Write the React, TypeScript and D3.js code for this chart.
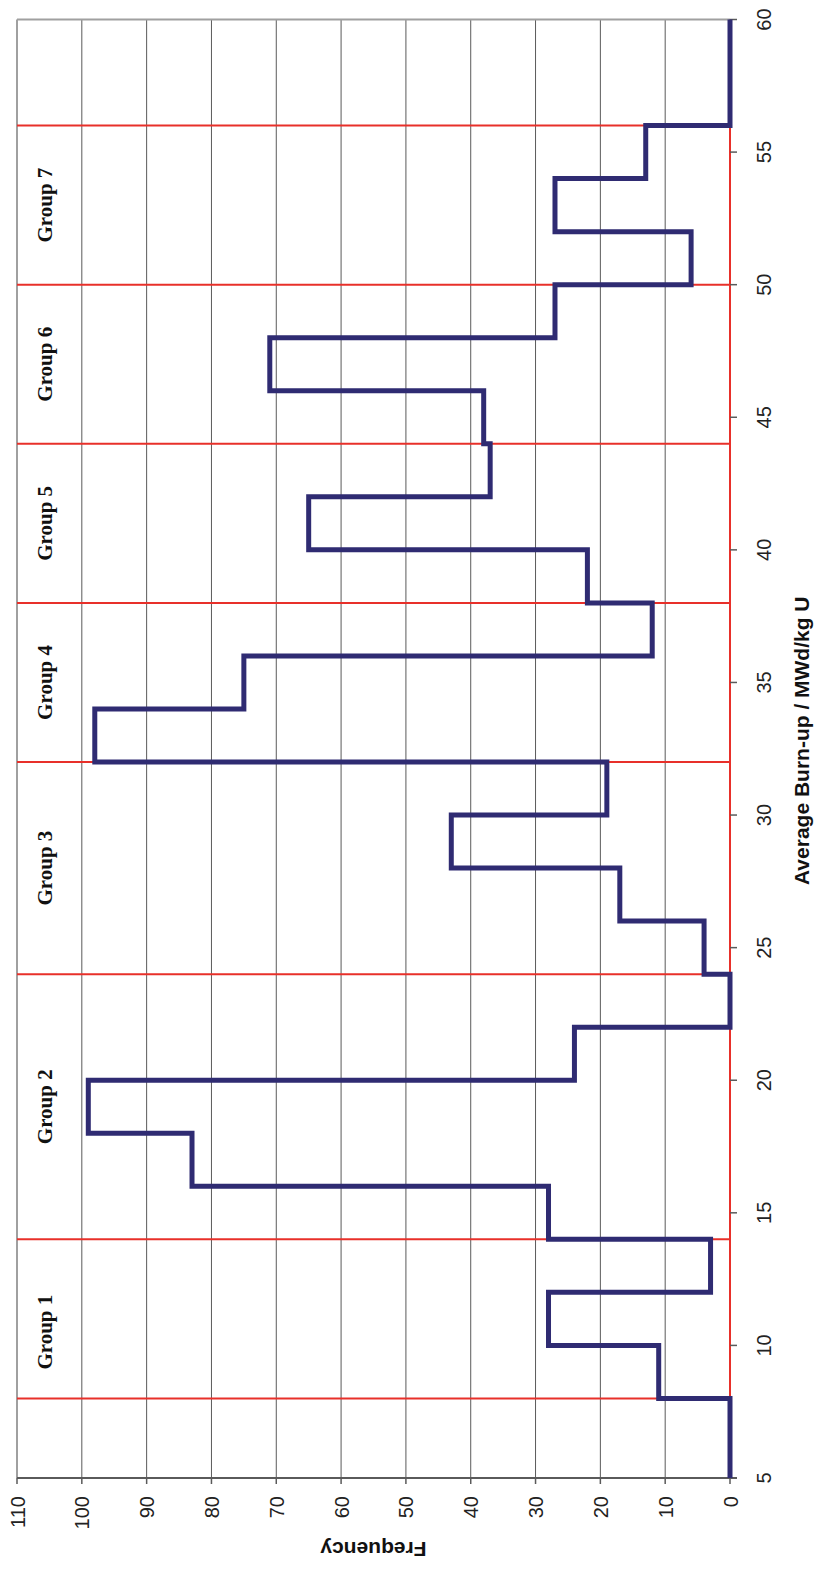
import React from "react";
import * as d3 from "d3";

// Bin edges of average burn-up (MWd/kg U) and the number of assemblies in each bin
const binEdges = [5, 8, 10, 12, 14, 16, 18, 20, 22, 24, 26, 28, 30, 32, 34, 36, 38, 40, 42, 44, 46, 48, 50, 52, 54, 56, 60];
const frequency = [0, 11, 28, 3, 28, 83, 99, 24, 0, 4, 17, 43, 19, 98, 75, 12, 22, 65, 37, 38, 71, 27, 6, 27, 13, 0];

// Group boundaries and labels
const groupBounds = [8, 14, 24, 32, 38, 44, 50, 56];
const groupNames = ["Group 1", "Group 2", "Group 3", "Group 4", "Group 5", "Group 6", "Group 7"];
const groupCentres = [10.5, 19, 28, 35, 41, 47, 53];

const burnTicks = [5, 10, 15, 20, 25, 30, 35, 40, 45, 50, 55, 60];
const freqTicks = [0, 10, 20, 30, 40, 50, 60, 70, 80, 90, 100, 110];

const W = 815;
const H = 1569;
const plot = { left: 17, right: 730, top: 19.5, bottom: 1478 };

export default function App() {
  // The chart is laid on its side: burn-up runs upward, frequency runs leftward.
  const yB = d3.scaleLinear().domain([5, 60]).range([plot.bottom, plot.top]);
  const xF = d3.scaleLinear().domain([0, 110]).range([plot.right, plot.left]);

  const pts = binEdges.map((e, i) => ({ b: e, f: frequency[Math.min(i, frequency.length - 1)] }));
  const stepPath = d3
    .line<{ b: number; f: number }>()
    .x((d) => xF(d.f))
    .y((d) => yB(d.b))
    .curve(d3.curveStepBefore)(pts) as string;

  const red = "#e8302a";
  const navy = "#2f2b72";
  const sans = "'Liberation Sans', Arial, sans-serif";
  const serif = "'Liberation Serif', 'Times New Roman', serif";

  const firstB = groupBounds[0];
  const lastB = groupBounds[groupBounds.length - 1];

  return (
    <svg width={W} height={H} style={{ position: "absolute", left: 0, top: 0, background: "#fff" }}>
      {/* frequency gridlines */}
      {freqTicks.slice(1, -1).map((t) => (
        <line key={"g" + t} x1={xF(t)} x2={xF(t)} y1={plot.top} y2={plot.bottom} stroke="#5a5a5a" strokeWidth={1} />
      ))}
      {/* plot border */}
      <line x1={plot.left} x2={plot.right} y1={plot.top} y2={plot.top} stroke="#a0a0a0" strokeWidth={2} />
      <line x1={plot.left} x2={plot.left} y1={plot.top} y2={plot.bottom} stroke="#a0a0a0" strokeWidth={2} />
      <line x1={plot.right} x2={plot.right} y1={plot.top} y2={plot.bottom} stroke="#5a5a5a" strokeWidth={2} />

      {/* group boundaries */}
      {groupBounds.map((g) => (
        <line key={"r" + g} x1={plot.left} x2={plot.right} y1={yB(g)} y2={yB(g)} stroke={red} strokeWidth={2} />
      ))}
      <line x1={plot.right} x2={plot.right} y1={yB(firstB)} y2={yB(lastB)} stroke={red} strokeWidth={2} />

      {/* bottom axis (frequency) */}
      <line x1={plot.left} x2={plot.right + 7} y1={plot.bottom} y2={plot.bottom} stroke="#5a5a5a" strokeWidth={2} />
      {freqTicks.map((t) => (
        <g key={"ft" + t}>
          <line x1={xF(t)} x2={xF(t)} y1={plot.bottom} y2={plot.bottom + 6} stroke="#5a5a5a" strokeWidth={1.5} />
          <text
            transform={`translate(${xF(t) + 7.5},${plot.bottom + 18}) rotate(-90)`}
            textAnchor="end"
            fontFamily={sans}
            fontSize={20}
            fill="#222"
          >
            {t}
          </text>
        </g>
      ))}

      {/* right axis (burn-up) */}
      {burnTicks.map((t) => (
        <g key={"bt" + t}>
          <line x1={plot.right} x2={plot.right + 7} y1={yB(t)} y2={yB(t)} stroke="#5a5a5a" strokeWidth={1.5} />
          <text
            transform={`translate(${plot.right + 41},${yB(t)}) rotate(-90)`}
            textAnchor="middle"
            fontFamily={sans}
            fontSize={20}
            fill="#222"
          >
            {t}
          </text>
        </g>
      ))}

      {/* frequency histogram as a step line */}
      <path d={stepPath} fill="none" stroke={navy} strokeWidth={5} strokeLinejoin="miter" />

      {/* group labels */}
      {groupNames.map((n, i) => (
        <text
          key={n}
          transform={`translate(52,${yB(groupCentres[i])}) rotate(-90)`}
          textAnchor="middle"
          fontFamily={serif}
          fontWeight="bold"
          fontSize={21}
          fill="#111"
        >
          {n}
        </text>
      ))}

      {/* axis titles */}
      <text
        transform={`translate(809,${(plot.top + plot.bottom) / 2 - 8}) rotate(-90)`}
        textAnchor="middle"
        fontFamily={sans}
        fontWeight="bold"
        fontSize={21}
        fill="#111"
      >
        Average Burn-up / MWd/kg U
      </text>
      <text
        transform={`translate(${(plot.left + plot.right) / 2},1542) rotate(180)`}
        textAnchor="middle"
        fontFamily={sans}
        fontWeight="bold"
        fontSize={21}
        fill="#111"
      >
        Frequency
      </text>
    </svg>
  );
}
